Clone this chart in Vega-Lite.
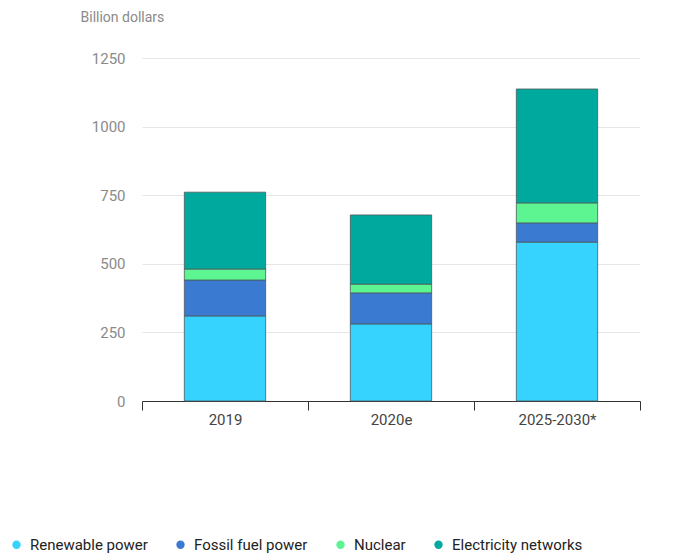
{
  "$schema": "https://vega.github.io/schema/vega-lite/v6.json",
  "autosize": "none",
  "width": 498,
  "height": 343,
  "padding": {"left": 142, "top": 58, "right": 56, "bottom": 152},
  "background": "white",
  "config": {"font": "Roboto", "view": {"stroke": null}},
  "data": {
    "values": [
      {"period": "2019", "category": "Renewable power", "rank": 1, "value": 310},
      {"period": "2019", "category": "Fossil fuel power", "rank": 2, "value": 131},
      {"period": "2019", "category": "Nuclear", "rank": 3, "value": 40},
      {"period": "2019", "category": "Electricity networks", "rank": 4, "value": 280},
      {"period": "2020e", "category": "Renewable power", "rank": 1, "value": 281},
      {"period": "2020e", "category": "Fossil fuel power", "rank": 2, "value": 113},
      {"period": "2020e", "category": "Nuclear", "rank": 3, "value": 32},
      {"period": "2020e", "category": "Electricity networks", "rank": 4, "value": 252},
      {"period": "2025-2030*", "category": "Renewable power", "rank": 1, "value": 579},
      {"period": "2025-2030*", "category": "Fossil fuel power", "rank": 2, "value": 70},
      {"period": "2025-2030*", "category": "Nuclear", "rank": 3, "value": 73},
      {"period": "2025-2030*", "category": "Electricity networks", "rank": 4, "value": 415}
    ]
  },
  "mark": {"type": "bar", "width": {"band": 0.49}, "stroke": "#4d5a5e", "strokeWidth": 1, "strokeOpacity": 0.8},
  "encoding": {
    "x": {
      "field": "period",
      "type": "nominal",
      "sort": null,
      "scale": {"paddingInner": 0, "paddingOuter": 0},
      "axis": {
        "title": null,
        "labelAngle": 0,
        "tickBand": "extent",
        "tickSize": 9,
        "tickColor": "#333333",
        "domainColor": "#333333",
        "labelColor": "#444444",
        "labelFontSize": 15,
        "labelPadding": 2,
        "grid": false
      }
    },
    "y": {
      "field": "value",
      "type": "quantitative",
      "stack": "zero",
      "scale": {"domain": [0, 1250], "nice": false},
      "axis": {
        "values": [0, 250, 500, 750, 1000, 1250],
        "format": "d",
        "domain": false,
        "ticks": false,
        "labelPadding": 17,
        "labelColor": "#8a8a8a",
        "labelFontSize": 15,
        "gridColor": "#e6e6e6",
        "title": "Billion dollars",
        "titleAngle": 0,
        "titleAlign": "left",
        "titleBaseline": "middle",
        "titleX": -62,
        "titleY": -41,
        "titleColor": "#8a8a8a",
        "titleFontSize": 14,
        "titleFontWeight": "normal"
      }
    },
    "color": {
      "field": "category",
      "type": "nominal",
      "sort": ["Renewable power", "Fossil fuel power", "Nuclear", "Electricity networks"],
      "scale": {
        "domain": ["Renewable power", "Fossil fuel power", "Nuclear", "Electricity networks"],
        "range": ["#36d3fe", "#3a7ad0", "#5cf592", "#00a99e"]
      },
      "legend": {
        "title": null,
        "orient": "none",
        "direction": "horizontal",
        "legendX": -133,
        "legendY": 479,
        "symbolType": "circle",
        "symbolSize": 70,
        "symbolStrokeWidth": 0,
        "labelFontSize": 15,
        "labelColor": "#222222",
        "labelOffset": 6,
        "columnPadding": 25
      }
    },
    "order": {"field": "rank", "type": "quantitative"}
  }
}
